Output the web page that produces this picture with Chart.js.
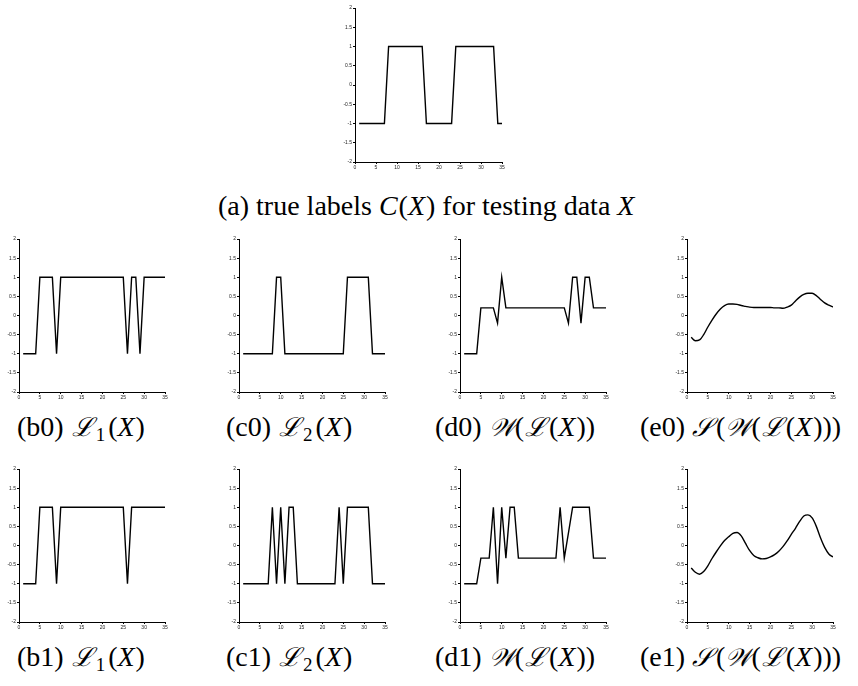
<!DOCTYPE html>
<html>
<head>
<meta charset="utf-8">
<script src="https://cdn.jsdelivr.net/npm/chart.js@4.4.1/dist/chart.umd.min.js"></script>
<style>
  html, body { margin:0; padding:0; background:#fff; }
  body { width:858px; height:686px; position:relative; overflow:hidden; }
  canvas { position:absolute; }
  .cap { position:absolute; font-family:"Liberation Serif","DejaVu Serif",serif; font-size:28px; color:#000; white-space:nowrap; line-height:1; }
  .cap i { font-style:italic; padding-right:1px; }
  .scr { font-family:"DejaVu Serif","Liberation Serif",serif; font-style:italic; font-size:26px; }
  .sL { margin:0 2px 0 1px; }
  .sS { margin:0 4px 0 0; }
  .sW { font-size:25px; }
  .cap sub { font-size:19px; vertical-align:-5px; line-height:0; margin-right:3px; }
</style>
</head>
<body>
<div class="cap" style="left:218px;top:192px;">(a) true labels <i>C</i>(<i>X</i>) for testing data <i>X</i></div>
<div class="cap" style="left:17px;top:413px;">(b0) <span class="scr sL">ℒ</span><sub>1</sub>(<i>X</i>)</div>
<div class="cap" style="left:226px;top:413px;">(c0) <span class="scr sL">ℒ</span><sub>2</sub>(<i>X</i>)</div>
<div class="cap" style="left:435px;top:413px;">(d0) <span class="scr sW">𝒲</span>(<span class="scr sL">ℒ</span>(<i>X</i>))</div>
<div class="cap" style="left:640px;top:413px;">(e0) <span class="scr sS">𝒮</span>(<span class="scr sW">𝒲</span>(<span class="scr sL">ℒ</span>(<i>X</i>)))</div>
<div class="cap" style="left:17px;top:643px;">(b1) <span class="scr sL">ℒ</span><sub>1</sub>(<i>X</i>)</div>
<div class="cap" style="left:226px;top:643px;">(c1) <span class="scr sL">ℒ</span><sub>2</sub>(<i>X</i>)</div>
<div class="cap" style="left:435px;top:643px;">(d1) <span class="scr sW">𝒲</span>(<span class="scr sL">ℒ</span>(<i>X</i>))</div>
<div class="cap" style="left:640px;top:643px;">(e1) <span class="scr sS">𝒮</span>(<span class="scr sW">𝒲</span>(<span class="scr sL">ℒ</span>(<i>X</i>)))</div>
<script>
// ---- data ----
const xValues = [1,2,3,4,5,6,7,8,9,10,11,12,13,14,15,16,17,18,19,20,21,22,23,24,25,26,27,28,29,30,31,32,33,34,35];
const xTicks = [0,5,10,15,20,25,30,35];
const yTicks = [-2,-1.5,-1,-0.5,0,0.5,1,1.5,2];

const trueLabels = [-1,-1,-1,-1,-1,-1,-1, 1,1,1,1,1,1,1,1,1, -1,-1,-1,-1,-1,-1,-1, 1,1,1,1,1,1,1,1,1,1, -1,-1];

const L1_0 = [-1,-1,-1,-1, 1,1,1,1, -1, 1,1,1,1,1,1,1,1,1,1,1,1,1,1,1,1, -1, 1,1, -1, 1,1,1,1,1,1];
const L2_0 = [-1,-1,-1,-1,-1,-1,-1,-1, 1,1, -1,-1,-1,-1,-1,-1,-1,-1,-1,-1,-1,-1,-1,-1,-1, 1,1,1,1,1,1, -1,-1,-1,-1];
const W_0  = [-1,-1,-1,-1, 0.2,0.2,0.2,0.2, -0.2, 1, 0.2,0.2,0.2,0.2,0.2,0.2,0.2,0.2,0.2,0.2,0.2,0.2,0.2,0.2,0.2, -0.2, 1,1, -0.2, 1,1, 0.2,0.2,0.2,0.2];
const S_0  = [-0.57,-0.66,-0.64,-0.5,-0.3,-0.12,0.04,0.17,0.26,0.3,0.3,0.29,0.26,0.24,0.22,0.21,0.21,0.21,0.21,0.21,0.2,0.2,0.19,0.22,0.27,0.38,0.48,0.55,0.58,0.58,0.52,0.42,0.33,0.27,0.22];

const L1_1 = [-1,-1,-1,-1, 1,1,1,1, -1, 1,1,1,1,1,1,1,1,1,1,1,1,1,1,1,1, -1, 1,1,1,1,1,1,1,1,1];
const L2_1 = [-1,-1,-1,-1,-1,-1,-1, 1, -1, 1, -1, 1,1, -1,-1,-1,-1,-1,-1,-1,-1,-1,-1, 1, -1, 1,1,1,1,1,1, -1,-1,-1,-1];
const W_1  = [-1,-1,-1,-1, -0.33,-0.33,-0.33, 1, -1, 1, -0.33, 1,1, -0.33,-0.33,-0.33,-0.33,-0.33,-0.33,-0.33,-0.33,-0.33,-0.33, 1, -0.33, 0.33, 1,1,1,1,1, -0.33,-0.33,-0.33,-0.33];
const S_1  = [-0.59,-0.7,-0.75,-0.68,-0.53,-0.34,-0.17,-0.01,0.13,0.23,0.32,0.34,0.25,0.06,-0.13,-0.26,-0.32,-0.35,-0.34,-0.3,-0.24,-0.15,-0.03,0.12,0.29,0.45,0.63,0.77,0.8,0.72,0.5,0.2,-0.05,-0.22,-0.3];

// ---- layout ----
const panels = [
  {id:'a',  L:355, T:8,   W:147, H:154, data:trueLabels, smooth:false},
  {id:'b0', L:19,  T:239, W:146, H:153, data:L1_0, smooth:false},
  {id:'c0', L:239, T:239, W:146, H:153, data:L2_0, smooth:false},
  {id:'d0', L:460, T:239, W:146, H:153, data:W_0,  smooth:false},
  {id:'e0', L:687, T:239, W:146, H:153, data:S_0,  smooth:true},
  {id:'b1', L:19,  T:469, W:146, H:153, data:L1_1, smooth:false},
  {id:'c1', L:239, T:469, W:146, H:153, data:L2_1, smooth:false},
  {id:'d1', L:460, T:469, W:146, H:153, data:W_1,  smooth:false},
  {id:'e1', L:687, T:469, W:146, H:153, data:S_1,  smooth:true}
];

const PADL = 22, PADT = 6, PADR = 6, PADB = 14;

panels.forEach(p => {
  const c = document.createElement('canvas');
  const cw = p.W + PADL + PADR, ch = p.H + PADT + PADB;
  c.width = cw; c.height = ch;
  c.style.left = (p.L - PADL) + 'px';
  c.style.top = (p.T - PADT) + 'px';
  c.style.width = cw + 'px'; c.style.height = ch + 'px';
  document.body.appendChild(c);
  new Chart(c, {
    type: 'line',
    data: {
      datasets: [{
        data: xValues.map((x, i) => ({x: x, y: p.data[i]})),
        borderColor: '#000',
        borderWidth: 1.4,
        pointRadius: 0,
        fill: false,
        tension: p.smooth ? 0.4 : 0,
        cubicInterpolationMode: p.smooth ? 'monotone' : 'default'
      }]
    },
    options: {
      responsive: false,
      animation: false,
      devicePixelRatio: 1,
      layout: { padding: { left: 0, top: PADT, right: PADR, bottom: 0 } },
      plugins: { legend: { display: false }, tooltip: { enabled: false }, title: { display: false } },
      scales: {
        x: {
          type: 'linear', min: 0, max: 35,
          afterBuildTicks: s => { s.ticks = xTicks.map(v => ({value: v})); },
          afterFit: s => { s.height = PADB; },
          grid: { drawOnChartArea: false, drawTicks: true, tickLength: 2, color: '#000' },
          border: { display: true, color: '#000', width: 1 },
          ticks: { color: '#222', font: { family: 'Liberation Sans', size: 5 }, padding: 1, maxRotation: 0, autoSkip: false,
                   callback: v => String(v) }
        },
        y: {
          type: 'linear', min: -2, max: 2,
          afterBuildTicks: s => { s.ticks = yTicks.map(v => ({value: v})); },
          afterFit: s => { s.width = PADL; },
          grid: { drawOnChartArea: false, drawTicks: true, tickLength: 2, color: '#000' },
          border: { display: true, color: '#000', width: 1 },
          ticks: { color: '#222', font: { family: 'Liberation Sans', size: 5 }, padding: 1, autoSkip: false,
                   callback: v => String(v) }
        }
      }
    }
  });
});
</script>
</body>
</html>
